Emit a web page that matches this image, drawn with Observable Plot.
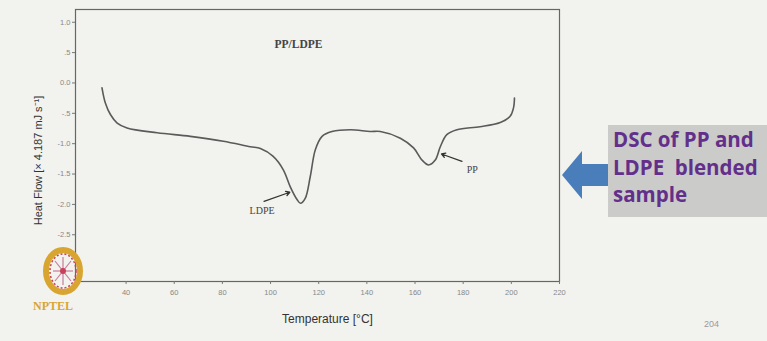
<!DOCTYPE html>
<html><head><meta charset="utf-8">
<script src="https://cdn.jsdelivr.net/npm/d3@7"></script>
<script src="https://cdn.jsdelivr.net/npm/@observablehq/plot@0.6"></script>
<style>
html,body{margin:0;padding:0;background:#f2f2ee;width:767px;height:341px;overflow:hidden;}
#wrap{position:relative;width:767px;height:341px;overflow:hidden;}
#chart{position:absolute;left:0;top:0;}
#box{position:absolute;left:608px;top:125px;width:159px;height:92px;background:#cbcbc9;
 font-family:"Open Sans",Lato,sans-serif;font-weight:700;font-size:20.5px;line-height:27.5px;color:#62308a;
 padding:1px 0 0 5px;box-sizing:border-box;white-space:nowrap;}
#deco{position:absolute;left:0;top:0;pointer-events:none;}
#pg{position:absolute;left:704px;top:319px;font-family:"Liberation Sans",Arial,sans-serif;font-size:9px;color:#9a9a9a;}
</style></head><body>
<div id="wrap">
<div id="chart"></div>
<div id="box">DSC of PP and<br>LDPE&nbsp; blended<br>sample</div>
<svg id="deco" width="767" height="341">
  <polygon points="562,175 582,151 582,164 608,164 608,186 582,186 582,199" fill="#4a7ebb"/>
  <g transform="translate(63,271)">
    <ellipse rx="17" ry="21" fill="none" stroke="#d9a531" stroke-width="6"/>
    <ellipse rx="13" ry="17" fill="none" stroke="#c9405a" stroke-width="1.5" stroke-dasharray="2 2"/>
    <g stroke="#c77a9a" stroke-width="1.2">
      <line x1="-10" y1="0" x2="10" y2="0"/><line x1="0" y1="-14" x2="0" y2="14"/>
      <line x1="-8" y1="-10" x2="8" y2="10"/><line x1="-8" y1="10" x2="8" y2="-10"/>
    </g>
    <circle r="3" fill="#c9405a"/>
  </g>
  <text x="33" y="310" font-family="Liberation Serif,serif" font-weight="700" font-size="12" fill="#d9a531">NPTEL</text>
</svg>
<div id="pg">204</div>
</div>
<script>
// DSC curve (Temperature °C, Heat Flow × 4.187 mJ/s)
const temperature = [30.0,31.4,33.5,36.3,40.4,52.9,66.7,80.4,91.6,95.8,101.1,105.3,108.2,111.0,112.4,114.4,116.5,118.6,121.4,125.5,133.2,141.4,145.6,153.9,159.4,162.9,165.6,168.4,170.5,173.2,177.4,187.0,195.4,199.5,200.9,201.3];
const heatFlow    = [-0.08,-0.33,-0.52,-0.66,-0.74,-0.82,-0.88,-0.96,-1.05,-1.08,-1.21,-1.43,-1.71,-1.92,-1.98,-1.90,-1.54,-1.10,-0.88,-0.80,-0.77,-0.80,-0.80,-0.91,-1.07,-1.27,-1.35,-1.27,-1.05,-0.85,-0.77,-0.72,-0.65,-0.55,-0.41,-0.25];

const xTicks = [40,60,80,100,120,140,160,180,200,220];
const yTicks = [1,0.5,0,-0.5,-1,-1.5,-2,-2.5];
const yTickLabels = ["1.0",".5","0.0","-.5","-1.0","-1.5","-2.0","-2.5"];

const peakNames = ["LDPE","PP"];
const peakLabelT = [96.5,183.8];
const peakLabelH = [-2.1,-1.43];
const arrowFromT = [97.3,179.5];
const arrowFromH = [-1.95,-1.29];
const arrowToT = [108.0,171.0];
const arrowToH = [-1.80,-1.17];

const chartTitle = "PP/LDPE";
const xLabel = "Temperature [°C]";
const yLabel = "Heat Flow [× 4.187 mJ s⁻¹]";

const curve = temperature.map((t,i)=>({t, h: heatFlow[i]}));
const peaks = peakNames.map((n,i)=>({n, t: peakLabelT[i], h: peakLabelH[i], x1: arrowFromT[i], y1: arrowFromH[i], x2: arrowToT[i], y2: arrowToH[i]}));
const yFmt = new Map(yTicks.map((v,i)=>[v, yTickLabels[i]]));

const chart = Plot.plot({
  width: 767, height: 341,
  marginLeft: 75, marginRight: 208, marginTop: 9, marginBottom: 60,
  style: {background: "transparent", fontFamily: "'Liberation Sans', Arial, sans-serif", color: "#666"},
  x: {domain: [19, 220]},
  y: {domain: [-3.27, 1.21]},
  marks: [
    Plot.frame({stroke: "#666", strokeWidth: 1.2}),
    Plot.axisY({ticks: yTicks, tickFormat: d => yFmt.get(d), tickSize: 3, tickPadding: 2, fontSize: 7.5, label: null, stroke: "#777", fill: "#888"}),
    Plot.axisX({ticks: xTicks, tickFormat: d => String(d), tickSize: 3, tickPadding: 5, fontSize: 7.5, label: null, stroke: "#777", fill: "#888"}),
    Plot.line(curve, {x: "t", y: "h", curve: "catmull-rom", stroke: "#5a5a5a", strokeWidth: 1.6}),
    Plot.arrow(peaks, {x1: "x1", y1: "y1", x2: "x2", y2: "y2", stroke: "#333", strokeWidth: 1.3, headLength: 5, bend: false}),
    Plot.text(peaks, {x: "t", y: "h", text: "n", fontFamily: "'Liberation Serif', serif", fontSize: 10, fill: "#444"}),
    Plot.text([chartTitle], {x: 111.6, y: 0.64, text: d => d, fontFamily: "'Liberation Serif', serif", fontSize: 11.5, fontWeight: 700, fill: "#444"}),
    Plot.text([xLabel], {frameAnchor: "bottom", textAnchor: "middle", dx: 10, dy: 41, text: d => d, fontSize: 12, fill: "#333"}),
    Plot.text([yLabel], {frameAnchor: "left", textAnchor: "middle", dx: -37, dy: 15, rotate: -90, text: d => d, fontSize: 11, fill: "#333"})
  ]
});
document.getElementById("chart").appendChild(chart);
</script>
</body></html>
